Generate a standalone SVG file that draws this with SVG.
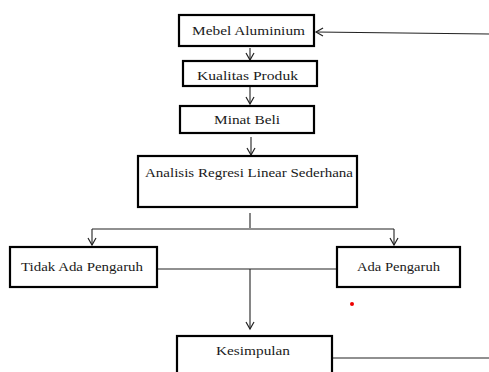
<svg xmlns="http://www.w3.org/2000/svg" width="489" height="372" viewBox="0 0 489 372">
<style>
.box{fill:#fff;stroke:#000;stroke-width:2.2}
.t{font-family:"Liberation Serif","Times New Roman",serif;font-size:13.5px;fill:#1a1a1a;text-anchor:middle}
.c{fill:none;stroke:#222;stroke-width:1.1}
</style>
<defs>
<marker id="ah" markerWidth="10" markerHeight="10" refX="8" refY="5" orient="auto" markerUnits="userSpaceOnUse">
<path d="M1,1 L8,5 L1,9" fill="none" stroke="#222" stroke-width="1.2"/>
</marker>
</defs>
<rect width="489" height="372" fill="#fff"/>
<g id="connectors">
<path class="c" d="M489,34 L316,32" marker-end="url(#ah)"/>
<path class="c" d="M250,48 L250,60" marker-end="url(#ah)"/>
<path class="c" d="M250,87 L250,104" marker-end="url(#ah)"/>
<path class="c" d="M251,137 L251,155" marker-end="url(#ah)"/>
<path class="c" d="M250,213 L250,228"/>
<path class="c" d="M92,229 L394,229"/>
<path class="c" d="M92,229 L92,245" marker-end="url(#ah)"/>
<path class="c" d="M394,229 L394,245" marker-end="url(#ah)"/>
<path class="c" d="M157,269 L337,269"/>
<path class="c" d="M250,269 L250,329" marker-end="url(#ah)"/>
<path class="c" d="M332,358 L489,358"/>
</g>
<g id="mebel"><rect class="box" x="179" y="15" width="135" height="31"/><text class="t" x="248.5" y="35" textLength="113" lengthAdjust="spacingAndGlyphs">Mebel Aluminium</text></g>
<g id="kualitas"><rect class="box" x="183" y="61" width="134" height="25"/><text class="t" x="247.5" y="80" textLength="101" lengthAdjust="spacingAndGlyphs">Kualitas Produk</text></g>
<g id="minat"><rect class="box" x="180" y="106" width="134" height="27"/><text class="t" x="247" y="124" textLength="66" lengthAdjust="spacingAndGlyphs">Minat Beli</text></g>
<g id="analisis"><rect class="box" x="138" y="156" width="219" height="51"/><text class="t" x="249" y="177" textLength="208" lengthAdjust="spacingAndGlyphs">Analisis Regresi Linear Sederhana</text></g>
<g id="tidak"><rect class="box" x="10" y="247" width="147" height="40"/><text class="t" x="82" y="271" textLength="122" lengthAdjust="spacingAndGlyphs">Tidak Ada Pengaruh</text></g>
<g id="ada"><rect class="box" x="337" y="247" width="123" height="40"/><text class="t" x="398.5" y="271" textLength="83" lengthAdjust="spacingAndGlyphs">Ada Pengaruh</text></g>
<g id="kesimpulan"><rect class="box" x="177" y="336" width="155" height="50"/><text class="t" x="253" y="355" textLength="74" lengthAdjust="spacingAndGlyphs">Kesimpulan</text></g>
<circle cx="352" cy="304" r="2" fill="#e00"/>
</svg>
